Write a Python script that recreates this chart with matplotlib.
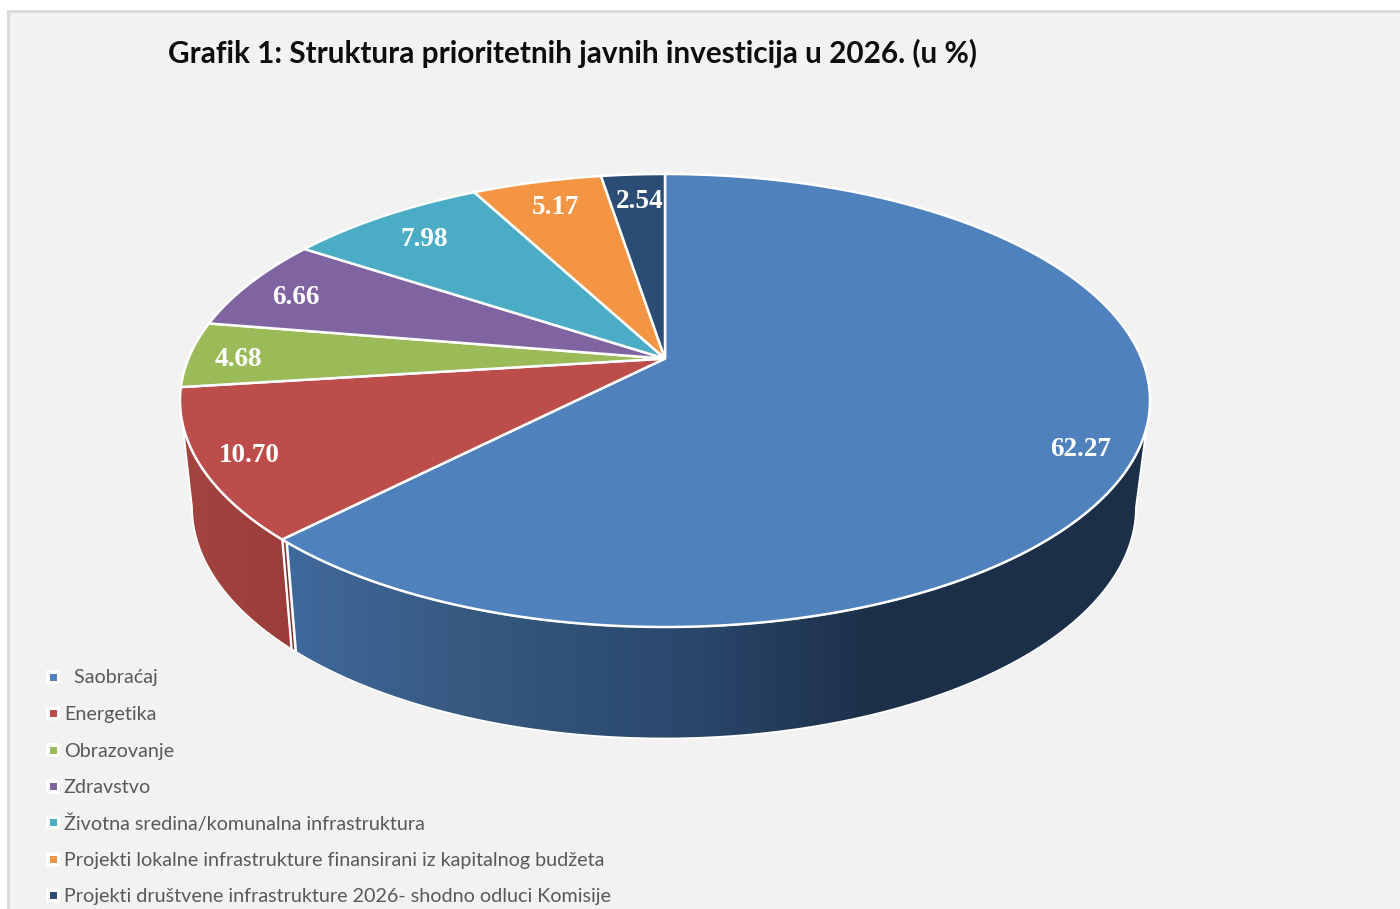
import matplotlib.pyplot as plt
import numpy as np
from matplotlib.colors import LinearSegmentedColormap
from matplotlib.patches import FancyBboxPatch, Polygon, Rectangle

TITLE = "Grafik 1: Struktura prioritetnih javnih investicija u 2026. (u %)"

LABELS = [
    "  Saobraćaj",
    "Energetika",
    "Obrazovanje",
    "Zdravstvo",
    "Životna sredina/komunalna infrastruktura",
    "Projekti lokalne infrastrukture finansirani iz kapitalnog budžeta",
    "Projekti društvene infrastrukture 2026- shodno odluci Komisije",
]
VALUES = [62.27, 10.70, 4.68, 6.66, 7.98, 5.17, 2.54]
COLORS = ["#4F81BD", "#BC4D4A", "#9BBB59", "#8064A2", "#4BACC6", "#F49544", "#2B4C75"]

# where the value labels sit, px
VALUE_POS = [(1081, 449), (249, 455), (238, 360), (296, 298), (424, 239), (556, 208), (640, 202)]
LEGEND_Y = [678, 714.5, 751, 787.5, 823.5, 860.5, 896.5]

BG = "#F2F2F2"
TOP = dict(cx=665.0, cy=400.5, a=485.0, b=226.5)
BOTTOM = dict(cx=664.0, cy=507.0, a=472.0, b=231.5)
TILT = 0.185  # perspective, pushes the apex above the ellipse centre


def rim(t_deg, e, r=1.0):
    # t clockwise from 12 o'clock, projected onto the tilted disc
    t = np.radians(t_deg)
    u, v = r * np.sin(t), r * np.cos(t)
    den = 1 + TILT * v
    x = u * np.sqrt(1 - TILT**2) / den
    y = (v + TILT) / den
    return np.column_stack([e["cx"] + e["a"] * x, e["cy"] - e["b"] * y])


def wall(ax, t0, t1, stops, z=2):
    ts = np.linspace(t0, t1, 200)
    pts = np.vstack([rim(ts, TOP), rim(ts[::-1], BOTTOM)])
    x0, x1 = pts[:, 0].min(), pts[:, 0].max()
    y0, y1 = pts[:, 1].min(), pts[:, 1].max()
    cmap = LinearSegmentedColormap.from_list("w", stops)
    im = ax.imshow(
        np.linspace(0, 1, 512).reshape(1, -1),
        extent=[x0, x1, y1, y0],
        aspect="auto",
        cmap=cmap,
        zorder=z,
    )
    outline = Polygon(pts, closed=True, transform=ax.transData, fc="none", ec="white", lw=1.3, zorder=z + 0.1)
    ax.add_patch(outline)
    im.set_clip_path(Polygon(pts, closed=True, transform=ax.transData))


fig = plt.figure(figsize=(14, 9.09), dpi=100, facecolor="white")
ax = fig.add_axes([0, 0, 1, 1])

ax.add_patch(Rectangle((8, 11), 1500, 1000, fc=BG, ec="#D9D9D9", lw=2, zorder=0))

ends = np.cumsum(VALUES) / np.sum(VALUES) * 360
starts = np.concatenate([[0], ends[:-1]])

# side walls first, the top face covers what overlaps
split = ends[0]
wall(
    ax,
    100.7,
    split - 0.85,
    [(0, "#40699C"), (0.22, "#36587F"), (0.47, "#2A476C"), (0.68, "#1D3049"), (1, "#1C2F48")],
)
wall(ax, split - 0.7, split - 0.1, ["#7A2E2D", "#7A2E2D"])
wall(ax, split, 259.3, ["#A5443F", "#9A3D3A"])

for start, end, color in zip(starts, ends, COLORS):
    ts = np.linspace(start, end, 300)
    apex = rim(np.array([0.0]), TOP, r=0.0)
    ax.add_patch(Polygon(np.vstack([apex, rim(ts, TOP)]), closed=True, fc=color, ec="white", lw=1.8, zorder=3))

for value, (x, y) in zip(VALUES, VALUE_POS):
    ax.text(
        x, y, f"{value:.2f}", color="white", fontsize=19.6, fontweight="bold",
        family="Liberation Serif", ha="center", va="center", zorder=5,
    )

ax.text(168, 53, TITLE, fontsize=21.45, fontweight="bold", family="Lato", color="#0D0D0D", va="center", ha="left")

# legend by hand so the rows keep the wide spacing
for label, color, y in zip(LABELS, COLORS, LEGEND_Y):
    ax.add_patch(FancyBboxPatch((47, y - 7), 12, 12, boxstyle="round,pad=1,rounding_size=2", fc="white", ec="none", zorder=4))
    ax.add_patch(Rectangle((49.5, y - 4.5), 7, 7, fc=color, ec="none", zorder=5))
    ax.text(64, y, label, fontsize=14.2, family="Lato", color="#595959", va="center", ha="left")

ax.set_xlim(0, 1400)
ax.set_ylim(909, 0)
ax.axis("off")

fig.savefig("out.png", dpi=100, facecolor="white")
